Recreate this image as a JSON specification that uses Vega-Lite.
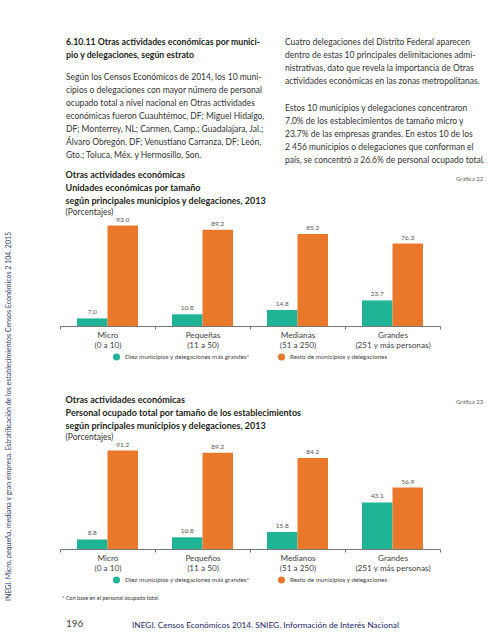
{
  "$schema": "https://vega.github.io/schema/vega-lite/v6.json",
  "background": "white",
  "padding": {"top": 38, "left": 4, "right": 0, "bottom": 0},
  "title": {
    "text": "INEGI. Micro, pequeña, mediana y gran empresa. Estratificación de los establecimientos Censos Económicos 2 104. 2015",
    "orient": "left", "anchor": "start", "fontSize": 7, "fontWeight": "normal", "color": "#2f3b70", "offset": 48, "dx": 40
  },
  "spacing": -9,
  "resolve": {"scale": {"color": "independent"}, "legend": {"color": "independent"}},
  "vconcat": [
    {
      "spacing": 10,
      "hconcat": [
        {
          "width": 215, "height": 1,
          "data": {"values": [{}]},
          "mark": {"type": "text"},
          "encoding": {"text": {"value": ""}},
          "title": {
            "text": ["6.10.11 Otras actividades económicas por munici-", "\u00a0\u00a0\u00a0\u00a0\u00a0\u00a0\u00a0\u00a0\u00a0\u00a0\u00a0\u00a0\u00a0\u00a0pio y delegaciones, según estrato"],
            "subtitle": [
              "Según los Censos Económicos de 2014, los 10 muni-",
              "cipios o delegaciones con mayor número de personal",
              "ocupado total a nivel nacional en Otras actividades",
              "económicas fueron Cuauhtémoc, DF; Miguel Hidalgo,",
              "DF; Monterrey, NL; Carmen, Camp.; Guadalajara, Jal.;",
              "Álvaro Obregón, DF; Venustiano Carranza, DF; León,",
              "Gto.; Toluca, Méx. y Hermosillo, Son."
            ],
            "anchor": "start", "dx": 6, "fontSize": 8.75, "fontWeight": "bold", "lineHeight": 13,
            "subtitleFontSize": 8.5, "subtitleLineHeight": 13, "subtitlePadding": 13, "offset": 9,
            "color": "#231f20", "subtitleColor": "#333333"
          }
        },
        {
          "width": 200, "height": 1,
          "data": {"values": [{}]},
          "mark": {"type": "text"},
          "encoding": {"text": {"value": ""}},
          "title": {
            "text": [
              "\u00a0\u00a0\u00a0\u00a0\u00a0Cuatro delegaciones del Distrito Federal aparecen",
              "dentro de estas 10 principales delimitaciones admi-",
              "nistrativas, dato que revela la importancia de Otras",
              "actividades económicas en las zonas metropolitanas."
            ],
            "subtitle": [
              "\u00a0\u00a0\u00a0\u00a0\u00a0Estos 10 municipios y delegaciones concentraron",
              "7.0% de los establecimientos de tamaño micro y",
              "23.7% de las empresas grandes. En estos 10 de los",
              "2 456 municipios o delegaciones que conforman el",
              "país, se concentró a 26.6% de personal ocupado total."
            ],
            "anchor": "start", "fontSize": 8.5, "fontWeight": "normal", "lineHeight": 13,
            "subtitleFontSize": 8.5, "subtitleLineHeight": 13, "subtitlePadding": 18.5, "offset": 4,
            "color": "#333333", "subtitleColor": "#333333"
          }
        }
      ]
    },
    {
      "spacing": 15,
      "resolve": {"scale": {"color": "independent"}, "legend": {"color": "independent"}},
      "hconcat": [
        {
          "width": 380, "height": 108,
          "title": {
            "text": ["Otras actividades económicas", "Unidades económicas por tamaño", "según principales municipios y delegaciones, 2013"],
            "subtitle": "(Porcentajes)",
            "anchor": "start", "dx": 6, "fontSize": 9, "fontWeight": "bold", "lineHeight": 13,
            "subtitleFontSize": 8.5, "subtitlePadding": 2, "offset": 0, "color": "#231f20", "subtitleColor": "#333333"
          },
          "data": {"values": [
            {"tamano": "Micro\n(0 a 10)", "grupo": "Diez municipios y delegaciones más grandes*", "valor": 7.0},
            {"tamano": "Micro\n(0 a 10)", "grupo": "Resto de municipios y delegaciones", "valor": 93.0},
            {"tamano": "Pequeñas\n(11 a 50)", "grupo": "Diez municipios y delegaciones más grandes*", "valor": 10.8},
            {"tamano": "Pequeñas\n(11 a 50)", "grupo": "Resto de municipios y delegaciones", "valor": 89.2},
            {"tamano": "Medianas\n(51 a 250)", "grupo": "Diez municipios y delegaciones más grandes*", "valor": 14.8},
            {"tamano": "Medianas\n(51 a 250)", "grupo": "Resto de municipios y delegaciones", "valor": 85.2},
            {"tamano": "Grandes\n(251 y más personas)", "grupo": "Diez municipios y delegaciones más grandes*", "valor": 23.7},
            {"tamano": "Grandes\n(251 y más personas)", "grupo": "Resto de municipios y delegaciones", "valor": 76.3}
          ]},
          "encoding": {
            "x": {"field": "tamano", "type": "nominal", "sort": null,
                  "scale": {"paddingInner": 0, "paddingOuter": 0},
                  "axis": {"title": null, "labelAngle": 0, "labelExpr": "split(datum.label, '\\n')", "tickBand": "extent",
                           "domainColor": "#555555", "domainWidth": 0.8, "tickColor": "#555555", "tickSize": 3, "tickWidth": 0.8,
                           "labelFontSize": 8.2, "labelColor": "#444444", "labelLineHeight": 10.5, "labelPadding": 2, "labelBaseline": "top"}},
            "xOffset": {"field": "grupo", "type": "nominal", "sort": null, "scale": {"paddingInner": 0, "paddingOuter": 0.557}},
            "y": {"field": "valor", "type": "quantitative", "scale": {"domain": [0, 100]}, "axis": null}
          },
          "layer": [
            {
              "mark": {"type": "bar"},
              "encoding": {
                "color": {"field": "grupo", "type": "nominal", "sort": null,
                          "scale": {"domain": ["Diez municipios y delegaciones más grandes*", "Resto de municipios y delegaciones"], "range": ["#20b496", "#e9782a"]},
                          "legend": {"orient": "bottom", "direction": "horizontal", "title": null, "symbolType": "circle", "symbolSize": 50,
                                     "labelFontSize": 6.3, "labelColor": "#444444", "columnPadding": 27, "offset": 3, "padding": 0}}
              }
            },
            {
              "mark": {"type": "text", "baseline": "bottom", "dy": -3, "fontSize": 6.5, "color": "#555555"},
              "encoding": {"text": {"field": "valor", "type": "quantitative", "format": ".1f"}}
            }
          ]
        },
        {
          "width": 30, "height": 186,
          "data": {"values": [{}]},
          "mark": {"type": "text"},
          "encoding": {"text": {"value": ""}},
          "title": {"text": "Gráfica 22", "anchor": "start", "fontSize": 6, "fontWeight": "normal", "color": "#666666", "offset": 36}
        }
      ]
    },
    {
      "spacing": 15,
      "resolve": {"scale": {"color": "independent"}, "legend": {"color": "independent"}},
      "hconcat": [
        {
          "width": 380, "height": 108,
          "title": {
            "text": ["Otras actividades económicas", "Personal ocupado total por tamaño de los establecimientos", "según principales municipios y delegaciones, 2013"],
            "subtitle": "(Porcentajes)",
            "anchor": "start", "dx": 6, "fontSize": 9, "fontWeight": "bold", "lineHeight": 13,
            "subtitleFontSize": 8.5, "subtitlePadding": 2, "offset": 0, "color": "#231f20", "subtitleColor": "#333333"
          },
          "data": {"values": [
            {"tamano": "Micro\n(0 a 10)", "grupo": "Diez municipios y delegaciones más grandes*", "valor": 8.8},
            {"tamano": "Micro\n(0 a 10)", "grupo": "Resto de municipios y delegaciones", "valor": 91.2},
            {"tamano": "Pequeños\n(11 a 50)", "grupo": "Diez municipios y delegaciones más grandes*", "valor": 10.8},
            {"tamano": "Pequeños\n(11 a 50)", "grupo": "Resto de municipios y delegaciones", "valor": 89.2},
            {"tamano": "Medianos\n(51 a 250)", "grupo": "Diez municipios y delegaciones más grandes*", "valor": 15.8},
            {"tamano": "Medianos\n(51 a 250)", "grupo": "Resto de municipios y delegaciones", "valor": 84.2},
            {"tamano": "Grandes\n(251 y más personas)", "grupo": "Diez municipios y delegaciones más grandes*", "valor": 43.1},
            {"tamano": "Grandes\n(251 y más personas)", "grupo": "Resto de municipios y delegaciones", "valor": 56.9}
          ]},
          "encoding": {
            "x": {"field": "tamano", "type": "nominal", "sort": null,
                  "scale": {"paddingInner": 0, "paddingOuter": 0},
                  "axis": {"title": null, "labelAngle": 0, "labelExpr": "split(datum.label, '\\n')", "tickBand": "extent",
                           "domainColor": "#555555", "domainWidth": 0.8, "tickColor": "#555555", "tickSize": 3, "tickWidth": 0.8,
                           "labelFontSize": 8.2, "labelColor": "#444444", "labelLineHeight": 10.5, "labelPadding": 2, "labelBaseline": "top"}},
            "xOffset": {"field": "grupo", "type": "nominal", "sort": null, "scale": {"paddingInner": 0, "paddingOuter": 0.557}},
            "y": {"field": "valor", "type": "quantitative", "scale": {"domain": [0, 100]}, "axis": null}
          },
          "layer": [
            {
              "mark": {"type": "bar"},
              "encoding": {
                "color": {"field": "grupo", "type": "nominal", "sort": null,
                          "scale": {"domain": ["Diez municipios y delegaciones más grandes*", "Resto de municipios y delegaciones"], "range": ["#20b496", "#e9782a"]},
                          "legend": {"orient": "bottom", "direction": "horizontal", "title": null, "symbolType": "circle", "symbolSize": 50,
                                     "labelFontSize": 6.3, "labelColor": "#444444", "columnPadding": 27, "offset": 3, "padding": 0}}
              }
            },
            {
              "mark": {"type": "text", "baseline": "bottom", "dy": -3, "fontSize": 6.5, "color": "#555555"},
              "encoding": {"text": {"field": "valor", "type": "quantitative", "format": ".1f"}}
            }
          ]
        },
        {
          "width": 30, "height": 161,
          "data": {"values": [{}]},
          "mark": {"type": "text"},
          "encoding": {"text": {"value": ""}},
          "title": {"text": "Gráfica 23", "anchor": "start", "fontSize": 6, "fontWeight": "normal", "color": "#666666", "offset": 36}
        }
      ]
    },
    {
      "width": 380, "height": 26,
      "data": {"values": [{}]},
      "mark": {"type": "text"},
      "encoding": {"text": {"value": ""}},
      "title": {"text": "* Con base en el personal ocupado total.", "anchor": "start", "dx": 2, "fontSize": 5.5, "fontWeight": "normal", "color": "#333333", "offset": 1}
    },
    {
      "spacing": 10,
      "hconcat": [
        {
          "width": 62, "height": 4,
          "data": {"values": [{}]},
          "mark": {"type": "text"},
          "encoding": {"text": {"value": ""}},
          "title": {"text": "196", "anchor": "start", "dx": 6, "fontSize": 10, "fontWeight": "normal", "color": "#444444", "offset": 1}
        },
        {
          "width": 300, "height": 4,
          "data": {"values": [{}]},
          "mark": {"type": "text"},
          "encoding": {"text": {"value": ""}},
          "title": {"text": "INEGI. Censos Económicos 2014. SNIEG. Información de Interés Nacional", "anchor": "start", "fontSize": 8.3, "fontWeight": "normal", "color": "#1d2a6c", "offset": 1}
        }
      ]
    }
  ],
  "config": {
    "font": "Lato",
    "view": {"stroke": null, "fill": "white"},
    "legend": {"layout": {"bottom": {"anchor": "middle"}}}
  }
}
